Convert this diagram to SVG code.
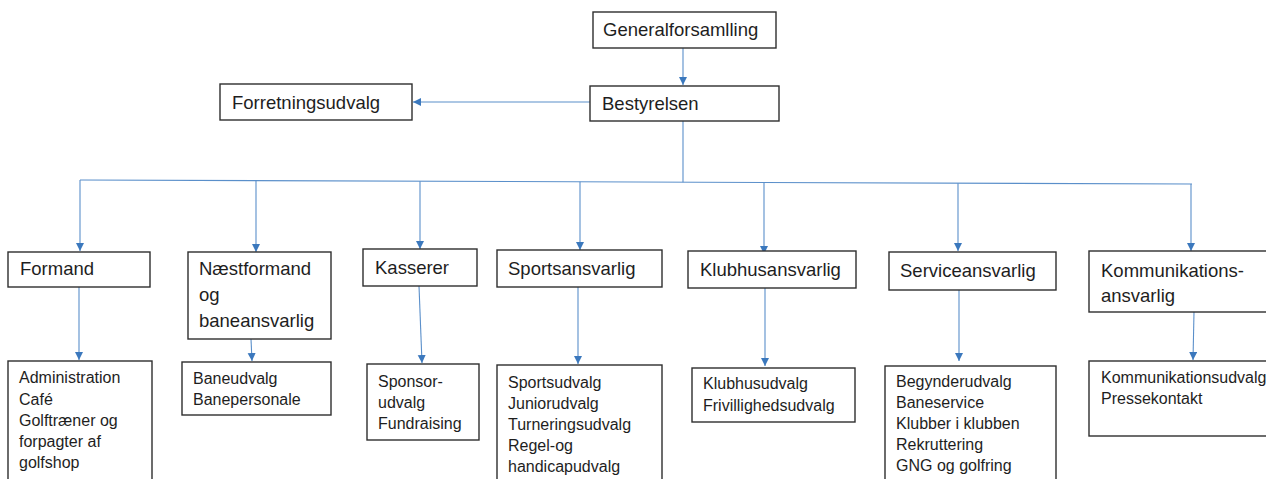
<svg xmlns="http://www.w3.org/2000/svg" width="1266" height="479" viewBox="0 0 1266 479">
<style>
.box{fill:#fff;stroke:#2e2e2e;stroke-width:1.4}
.t{font-family:"Liberation Sans",Arial,sans-serif;font-size:18.5px;fill:#1e1e1e}
.s{font-family:"Liberation Sans",Arial,sans-serif;font-size:16px;fill:#1e1e1e}
.c{fill:none;stroke:#5a8fca;stroke-width:1.1}
</style>
<defs>
<marker id="ah" markerUnits="userSpaceOnUse" markerWidth="9" markerHeight="9" refX="8" refY="4" orient="auto">
<path d="M0,0 L8,4 L0,8 z" fill="#3b78bd"/>
</marker>
</defs>
<rect width="1266" height="479" fill="#fff"/>
<g id="connectors">
<line class="c" x1="683" y1="48" x2="683" y2="85" marker-end="url(#ah)"/>
<line class="c" x1="590" y1="102" x2="413" y2="102" marker-end="url(#ah)"/>
<line class="c" x1="683" y1="121" x2="683" y2="182.2"/>
<line class="c" x1="80" y1="180" x2="1192" y2="184"/>
<line class="c" x1="80" y1="180" x2="80" y2="251" marker-end="url(#ah)"/>
<line class="c" x1="256" y1="180.6" x2="256" y2="252" marker-end="url(#ah)"/>
<line class="c" x1="420" y1="181.2" x2="420" y2="249" marker-end="url(#ah)"/>
<line class="c" x1="580" y1="181.8" x2="580" y2="250" marker-end="url(#ah)"/>
<line class="c" x1="764" y1="182.5" x2="764" y2="254" marker-end="url(#ah)"/>
<line class="c" x1="958" y1="183.2" x2="958" y2="251" marker-end="url(#ah)"/>
<line class="c" x1="1191" y1="184" x2="1191" y2="251" marker-end="url(#ah)"/>
<line class="c" x1="79" y1="287" x2="79" y2="360" marker-end="url(#ah)"/>
<line class="c" x1="251" y1="339" x2="252" y2="361" marker-end="url(#ah)"/>
<line class="c" x1="419" y1="286" x2="422" y2="363" marker-end="url(#ah)"/>
<line class="c" x1="578" y1="287" x2="578" y2="364" marker-end="url(#ah)"/>
<line class="c" x1="765" y1="288" x2="765" y2="366" marker-end="url(#ah)"/>
<line class="c" x1="959" y1="290" x2="959" y2="361" marker-end="url(#ah)"/>
<line class="c" x1="1194" y1="312" x2="1193" y2="360" marker-end="url(#ah)"/>
</g>
<g id="generalforsamlling"><rect class="box" x="593" y="12" width="183" height="36"/><text class="t" x="603" y="36">Generalforsamlling</text></g>
<g id="bestyrelsen"><rect class="box" x="590" y="86" width="189" height="35"/><text class="t" x="602" y="110">Bestyrelsen</text></g>
<g id="forretningsudvalg"><rect class="box" x="220" y="84" width="192" height="36"/><text class="t" x="232" y="109">Forretningsudvalg</text></g>
<g id="formand"><rect class="box" x="8" y="252" width="142" height="35"/><text class="t" x="20" y="275">Formand</text></g>
<g id="naestformand"><rect class="box" x="188" y="252" width="143" height="87"/><text class="t" x="199" y="275">Næstformand</text><text class="t" x="199" y="301">og</text><text class="t" x="199" y="327">baneansvarlig</text></g>
<g id="kasserer"><rect class="box" x="363" y="249" width="114" height="37"/><text class="t" x="375" y="274">Kasserer</text></g>
<g id="sportsansvarlig"><rect class="box" x="497" y="250" width="165" height="37"/><text class="t" x="508" y="275">Sportsansvarlig</text></g>
<g id="klubhusansvarlig"><rect class="box" x="688" y="251" width="168" height="37"/><text class="t" x="700" y="276">Klubhusansvarlig</text></g>
<g id="serviceansvarlig"><rect class="box" x="889" y="252" width="167" height="38"/><text class="t" x="900" y="277">Serviceansvarlig</text></g>
<g id="kommunikationsansvarlig"><rect class="box" x="1089" y="251" width="190" height="61"/><text class="t" x="1101" y="277">Kommunikations-</text><text class="t" x="1101" y="302">ansvarlig</text></g>
<g id="formand-sub"><rect class="box" x="8" y="361" width="144" height="130"/><text class="s" x="19" y="383">Administration</text><text class="s" x="19" y="405">Café</text><text class="s" x="19" y="426">Golftræner og</text><text class="s" x="19" y="447">forpagter af</text><text class="s" x="19" y="468">golfshop</text></g>
<g id="baneudvalg"><rect class="box" x="182" y="362" width="149" height="53"/><text class="s" x="193" y="384">Baneudvalg</text><text class="s" x="193" y="405">Banepersonale</text></g>
<g id="sponsorudvalg"><rect class="box" x="367" y="364" width="112" height="76"/><text class="s" x="378" y="387">Sponsor-</text><text class="s" x="378" y="408">udvalg</text><text class="s" x="378" y="429">Fundraising</text></g>
<g id="sportsudvalg"><rect class="box" x="497" y="365" width="165" height="126"/><text class="s" x="508" y="388">Sportsudvalg</text><text class="s" x="508" y="409">Juniorudvalg</text><text class="s" x="508" y="430">Turneringsudvalg</text><text class="s" x="508" y="451">Regel-og</text><text class="s" x="508" y="472">handicapudvalg</text></g>
<g id="klubhusudvalg"><rect class="box" x="692" y="368" width="163" height="54"/><text class="s" x="703" y="389">Klubhusudvalg</text><text class="s" x="703" y="411">Frivillighedsudvalg</text></g>
<g id="begynderudvalg"><rect class="box" x="885" y="366" width="171" height="125"/><text class="s" x="896" y="387">Begynderudvalg</text><text class="s" x="896" y="408">Baneservice</text><text class="s" x="896" y="429">Klubber i klubben</text><text class="s" x="896" y="450">Rekruttering</text><text class="s" x="896" y="471">GNG og golfring</text></g>
<g id="kommunikationsudvalg"><rect class="box" x="1089" y="361" width="190" height="75"/><text class="s" x="1101" y="383">Kommunikationsudvalg</text><text class="s" x="1101" y="404">Pressekontakt</text></g>
</svg>
